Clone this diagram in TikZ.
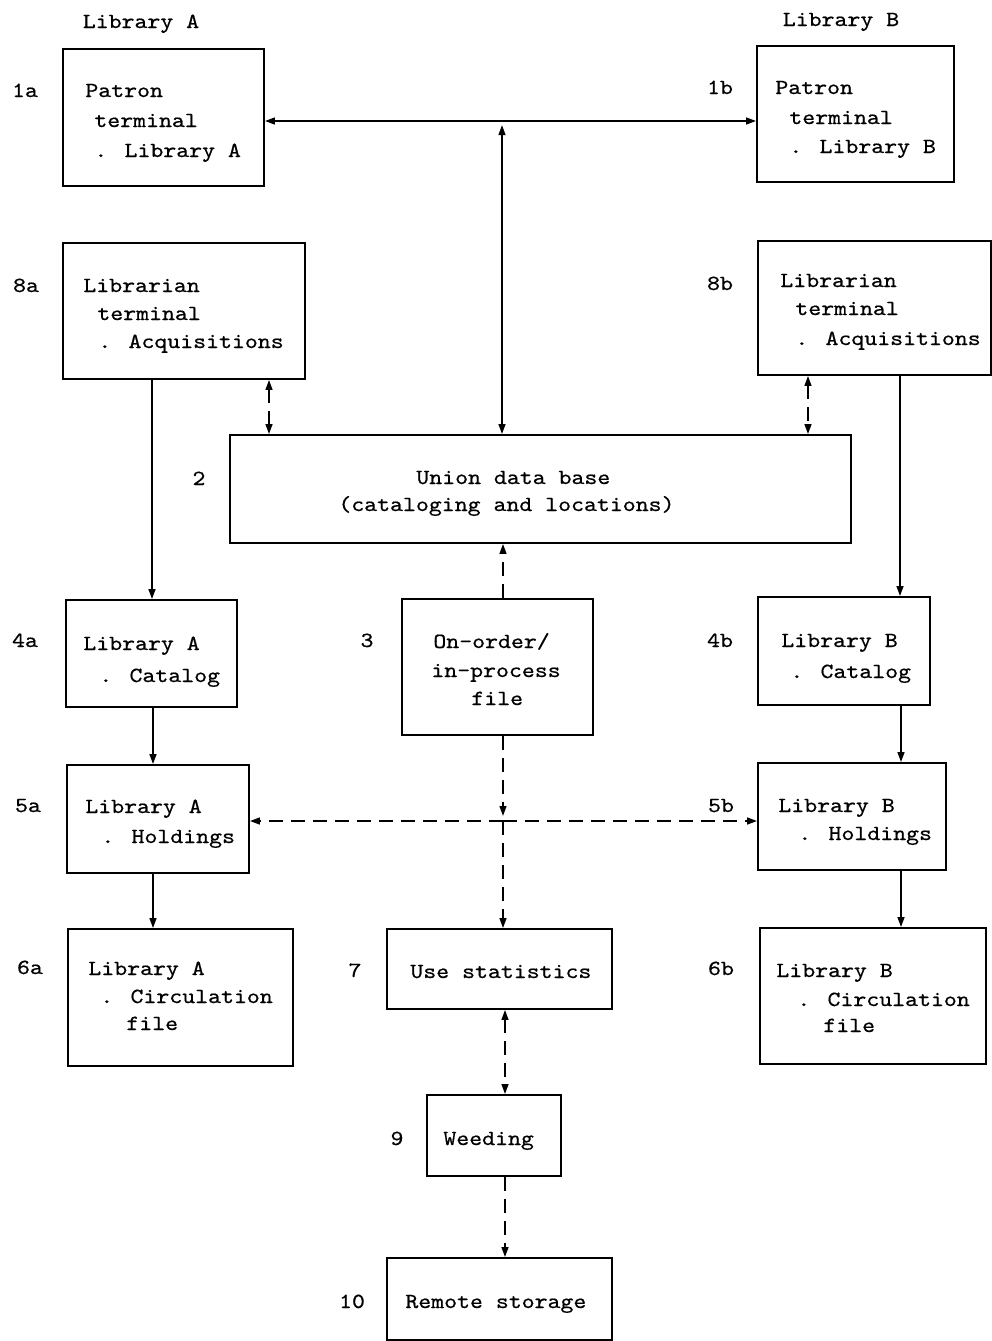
\documentclass[tikz,border=0pt]{standalone}
\usepackage{fontspec}
\usetikzlibrary{arrows.meta,fit}
\newfontfamily\tw[Extension=.otf,FakeStretch=1.14,FakeBold=0.6]{lmmono10-regular}
\newcommand\twfont{\tw\fontsize{10.8}{13}\selectfont}
\tikzset{
  box/.style={draw, line width=0.9pt, inner sep=0pt},
  txt/.style={anchor=base west, inner sep=0pt, font=\twfont},
  lbl/.style={anchor=base, inner sep=0pt, font=\twfont},
  conn/.style={line width=0.9pt},
  dsh/.style={dash pattern=on 7pt off 4pt},
  >={Triangle[length=5pt,width=3.4pt]}
}
\begin{document}
\begin{tikzpicture}[x=0.5pt,y=-0.5pt]
\useasboundingbox (0,0) rectangle (992,1341);
% titles
\node[lbl] (titleA) at (141,28) {Library A};
\node[lbl] (titleB) at (841,26) {Library B};
% boxes
\node[box, fit={(63,49) (264,186)}] (n1a) {};
\node[box, fit={(757,46) (954,182)}] (n1b) {};
\node[box, fit={(63,243) (305,379)}] (n8a) {};
\node[box, fit={(758,241) (991,375)}] (n8b) {};
\node[box, fit={(230,435) (851,543)}] (n2) {};
\node[box, fit={(66,600) (237,707)}] (n4a) {};
\node[box, fit={(402,599) (593,735)}] (n3) {};
\node[box, fit={(758,597) (930,705)}] (n4b) {};
\node[box, fit={(67,765) (249,873)}] (n5a) {};
\node[box, fit={(758,763) (946,870)}] (n5b) {};
\node[box, fit={(68,929) (293,1066)}] (n6a) {};
\node[box, fit={(387,929) (612,1009)}] (n7) {};
\node[box, fit={(760,928) (986,1064)}] (n6b) {};
\node[box, fit={(427,1095) (561,1176)}] (n9) {};
\node[box, fit={(387,1258) (612,1340)}] (n10) {};
% number labels
\node[lbl] (l1a) at (25,97) {1a};
\node[lbl] (l1b) at (720,94) {1b};
\node[lbl] (l8a) at (26,292) {8a};
\node[lbl] (l8b) at (720,290) {8b};
\node[lbl] (l2) at (199,485) {2};
\node[lbl] (l4a) at (25,647) {4a};
\node[lbl] (l3) at (367,647) {3};
\node[lbl] (l4b) at (720,647) {4b};
\node[lbl] (l5a) at (28,812) {5a};
\node[lbl] (l5b) at (721,812) {5b};
\node[lbl] (l6a) at (30,974) {6a};
\node[lbl] (l7) at (355,977) {7};
\node[lbl] (l6b) at (721,975) {6b};
\node[lbl] (l9) at (397,1145) {9};
\node[lbl] (l10) at (352,1308) {10};
% box texts
\node[txt] (t1a1) at (85,97) {Patron};
\node[txt] (t1a2) at (94,127) {terminal};
\node[txt] (t1a3) at (94,157) {. Library A};
\node[txt] (t1b1) at (775,94) {Patron};
\node[txt] (t1b2) at (789,124) {terminal};
\node[txt] (t1b3) at (789,153) {. Library B};
\node[txt] (t8a1) at (83,292) {Librarian};
\node[txt] (t8a2) at (97,320) {terminal};
\node[txt] (t8a3) at (98,348) {. Acquisitions};
\node[txt] (t8b1) at (780,287) {Librarian};
\node[txt] (t8b2) at (795,315) {terminal};
\node[txt] (t8b3) at (795,345) {. Acquisitions};
\node[txt] (t21) at (416,484) {Union data base};
\node[txt] (t22) at (338,511) {(cataloging and locations)};
\node[txt] (t4a1) at (83,650) {Library A};
\node[txt] (t4a2) at (99,682) {. Catalog};
\node[txt] (t31) at (433,648) {On-order/};
\node[txt] (t32) at (431,677) {in-process};
\node[txt] (t33) at (471,705) {file};
\node[txt] (t4b1) at (781,647) {Library B};
\node[txt] (t4b2) at (790,678) {. Catalog};
\node[txt] (t5a1) at (85,813) {Library A};
\node[txt] (t5a2) at (101,843) {. Holdings};
\node[txt] (t5b1) at (778,812) {Library B};
\node[txt] (t5b2) at (798,840) {. Holdings};
\node[txt] (t6a1) at (88,975) {Library A};
\node[txt] (t6a2) at (100,1003) {. Circulation};
\node[txt] (t6a3) at (126,1030) {file};
\node[txt] (t6b1) at (776,977) {Library B};
\node[txt] (t6b2) at (797,1006) {. Circulation};
\node[txt] (t6b3) at (823,1032) {file};
\node[txt] (t7) at (410,978) {Use statistics};
\node[txt] (t9) at (443,1145) {Weeding};
\node[txt] (t10) at (405,1308) {Remote storage};
% connector coordinates
\coordinate (top) at (502,121);
\coordinate (topa) at (502,125);
\coordinate (x8a) at (269,0);
\coordinate (x8b) at (808,0);
\coordinate (s8a) at (152,0);
\coordinate (s8b) at (900,0);
\coordinate (ca) at (153,0);
\coordinate (cb) at (901,0);
\coordinate (jn) at (503,821);
\coordinate (jna) at (503,816);
\coordinate (x9) at (505,0);
% connectors
\draw[conn,->] (top) -- (n1a.east |- top);
\draw[conn,->] (top) -- (n1b.west |- top);
\draw[conn,<->] (n2.north -| topa) -- (topa);
\draw[conn,dsh,<->] (n8a.south -| x8a) -- (n2.north -| x8a);
\draw[conn,dsh,<->] (n8b.south -| x8b) -- (n2.north -| x8b);
\draw[conn,->] (n8a.south -| s8a) -- (n4a.north -| s8a);
\draw[conn,->] (n8b.south -| s8b) -- (n4b.north -| s8b);
\draw[conn,->] (n4a.south -| ca) -- (n5a.north -| ca);
\draw[conn,->] (n5a.south -| ca) -- (n6a.north -| ca);
\draw[conn,->] (n4b.south -| cb) -- (n5b.north -| cb);
\draw[conn,->] (n5b.south -| cb) -- (n6b.north -| cb);
\draw[conn,dsh,->] (n3.north -| jn) -- (n2.south -| jn);
\draw[conn,dsh,->] (n3.south -| jn) -- (jna);
\draw[conn,dsh,->] (jn) -- (n7.north -| jn);
\draw[conn,dsh,->] (jn) -- (n5a.east |- jn);
\draw[conn,dsh,->] (jn) -- (n5b.west |- jn);
\draw[conn,dsh,<->] (n7.south -| x9) -- (n9.north -| x9);
\draw[conn,dsh,->] (n9.south -| x9) -- (n10.north -| x9);
\end{tikzpicture}
\end{document}
